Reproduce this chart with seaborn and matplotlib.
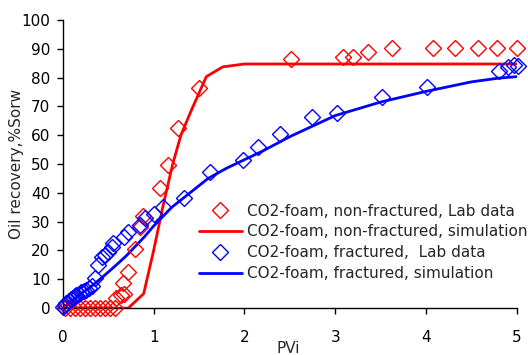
import numpy as np
import pandas as pd
import matplotlib
matplotlib.use("Agg")
import matplotlib.pyplot as plt
import seaborn as sns

# non-fractured, lab data
nf_lab_x = [0.02, 0.08, 0.13, 0.19, 0.24, 0.30, 0.35, 0.41, 0.46, 0.52, 0.57,
            0.59, 0.64, 0.67, 0.66, 0.72, 0.80, 0.85, 0.88, 1.07, 1.16, 1.27,
            1.50, 2.51, 3.09, 3.20, 3.36, 3.63, 4.08, 4.32, 4.57, 4.78, 5.00]
nf_lab_y = [0, 0, 0, 0, 0, 0, 0, 0, 0, 0, 0,
            3.5, 4.5, 5.0, 8.7, 12.5, 20.5, 28, 32, 41.7, 49.7, 62.5,
            76.4, 86.5, 87, 87.2, 89, 90.2, 90.2, 90.2, 90.2, 90.2, 90.2]

# non-fractured, simulation
nf_sim_x = [0, 0.72, 0.89, 1.0, 1.1, 1.21, 1.3, 1.42, 1.58, 1.76, 2.0, 2.5, 3.0, 3.5, 4.0, 4.5, 5.0]
nf_sim_y = [0, 0, 5, 20, 35, 50, 60, 69, 80.3, 83.7, 84.7, 84.7, 84.7, 84.7, 84.7, 84.7, 84.7]

# fractured, lab data
fr_lab_x = [0.0, 0.02, 0.04, 0.07, 0.09, 0.11, 0.13, 0.15, 0.18, 0.20, 0.23, 0.26,
            0.29, 0.32, 0.35, 0.39, 0.43, 0.46, 0.50, 0.54, 0.55, 0.67, 0.72, 0.85,
            0.91, 1.00, 1.10, 1.33, 1.62, 1.98, 2.15, 2.39, 2.74, 3.02, 3.51, 4.01,
            4.80, 4.90, 4.97, 5.01]
fr_lab_y = [0.3, 1.0, 1.7, 2.4, 3.1, 3.5, 4.2, 4.5, 4.9, 5.6, 5.9, 6.3,
            6.9, 7.6, 10.4, 15, 17.7, 18.4, 19.4, 21.2, 22.6, 24.7, 26.4, 28.8,
            31.3, 32.6, 35, 38.2, 47.2, 51.4, 55.9, 60.4, 66.3, 67.7, 73.3, 76.7,
            82.3, 83.7, 84.5, 84.0]

# fractured, simulation
fr_sim_x = [0, 0.1, 0.2, 0.3, 0.4, 0.5, 0.6, 0.7, 0.8, 0.9, 1.0, 1.2, 1.4, 1.6, 1.8,
            2.0, 2.2, 2.5, 3.0, 3.5, 4.0, 4.5, 4.8, 5.0]
fr_sim_y = [0, 2.5, 5, 7.2, 9.8, 12.5, 15.3, 18.2, 21.5, 24.8, 28.5, 35, 40, 45, 48.5,
            51.5, 54.5, 59.5, 66.8, 71.5, 75.2, 78.5, 79.8, 80.3]

labels = ["CO2-foam, non-fractured, Lab data",
          "CO2-foam, non-fractured, simulation",
          "CO2-foam, fractured,  Lab data",
          "CO2-foam, fractured, simulation"]

sns.set_style("ticks")
plt.rcParams['font.family'] = ['DejaVu Sans']

fig = plt.figure(figsize=(5.28, 3.55), dpi=100)
ax = fig.add_axes([0.119, 0.132, 0.860, 0.812])

nf_lab = pd.DataFrame({"x": nf_lab_x, "y": nf_lab_y})
nf_sim = pd.DataFrame({"x": nf_sim_x, "y": nf_sim_y})
fr_lab = pd.DataFrame({"x": fr_lab_x, "y": fr_lab_y})
fr_sim = pd.DataFrame({"x": fr_sim_x, "y": fr_sim_y})

ax.plot(nf_lab["x"], nf_lab["y"], ls="none", marker="D", ms=8, mfc="none",
        mec="#ff0000", mew=1.0, label=labels[0], zorder=3, clip_on=False)
sns.lineplot(data=nf_sim, x="x", y="y", ax=ax, color="#ff0000", lw=2,
             label=labels[1], estimator=None, sort=False)
ax.plot(fr_lab["x"], fr_lab["y"], ls="none", marker="D", ms=8, mfc="none",
        mec="#0000ff", mew=1.0, label=labels[2], zorder=3, clip_on=False)
sns.lineplot(data=fr_sim, x="x", y="y", ax=ax, color="#0000ff", lw=2,
             label=labels[3], estimator=None, sort=False)

ax.set_xlim(0, 5)
ax.set_ylim(0, 100)
ax.set_xticks(range(0, 6))
ax.set_yticks(range(0, 101, 10))
ax.tick_params(axis="both", direction="out", length=4, width=1, colors="black",
               labelsize=11)
ax.tick_params(axis="x", pad=12)
ax.tick_params(axis="y", pad=5)
for s in ["top", "right"]:
    ax.spines[s].set_visible(False)
for s in ["left", "bottom"]:
    ax.spines[s].set_color("black")
    ax.spines[s].set_linewidth(1)

ax.set_xlabel("PVi", fontsize=11)
ax.set_ylabel("Oil recovery,%Sorw", fontsize=11)
ax.xaxis.set_label_coords(0.497, -0.113)
ax.yaxis.set_label_coords(-0.086, 0.5)

ax.legend(loc="upper left", bbox_to_anchor=(0.30, 0.363), frameon=False,
          fontsize=11, borderpad=0, handlelength=2.8, handletextpad=0.35,
          labelspacing=0.39, borderaxespad=0)

fig.savefig("out.png", dpi=100)
